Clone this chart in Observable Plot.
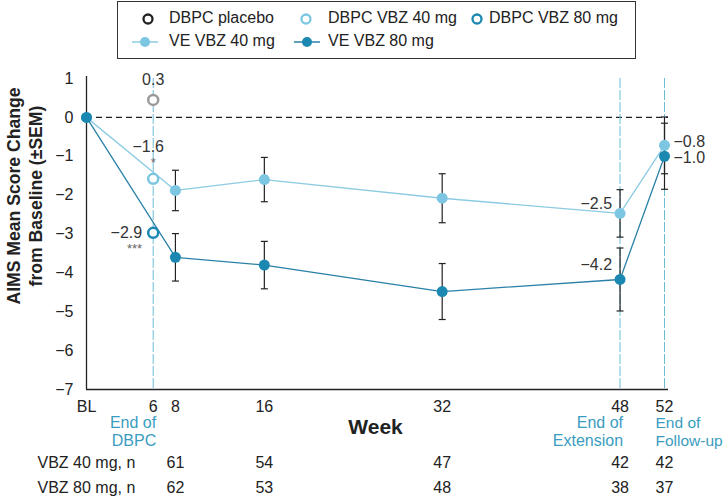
<!DOCTYPE html>
<html>
<head>
<meta charset="utf-8">
<script src="https://cdn.jsdelivr.net/npm/d3@7"></script>
<script src="https://cdn.jsdelivr.net/npm/@observablehq/plot@0.6"></script>
<style>
  html, body { margin: 0; padding: 0; background: #fff; }
  body { font-family: "Liberation Sans", Arial, sans-serif; }
  #wrap { position: relative; width: 724px; height: 503px; overflow: hidden; }
  #chart { position: absolute; left: 0; top: 0; }
  #legend { position: absolute; left: 117px; top: 1px; width: 519px; height: 58px; border: 1px solid #333; box-sizing: border-box; }
  .li { position: absolute; font-size: 16px; color: #222; line-height: 18px; white-space: nowrap; }
  .sym { position: absolute; }
</style>
</head>
<body>
<div id="wrap">
  <div id="chart"></div>
  <div id="legend"></div>
</div>
<script>
// ---- data ----
const weeks = [0, 8, 16, 32, 48, 52];
const ve40 = [0, -1.88, -1.6, -2.08, -2.47, -0.72];
const ve40Sem = [0, 0.52, 0.57, 0.63, 0.61, 0.73];
const ve80 = [0, -3.6, -3.8, -4.48, -4.17, -1.0];
const ve80Sem = [0, 0.61, 0.61, 0.72, 0.81, 0.85];

const dbpcWeek = 6;
const dbpcGroups = ["DBPC placebo", "DBPC VBZ 40 mg", "DBPC VBZ 80 mg"];
const dbpcValues = [0.45, -1.58, -2.97];
const dbpcLabels = ["0.3", "\u22121.6", "\u22122.9"];
const dbpcSig = ["", "*", "***"];

const endLabels = [["End of\nDBPC", 6], ["End of\nExtension", 48], ["End of\nFollow-up", 52]];
const xTicks = [0, 6, 8, 16, 32, 48, 52];
const xTickLabels = ["BL", "6", "8", "16", "32", "48", "52"];
const yTicks = [1, 0, -1, -2, -3, -4, -5, -6, -7];

const tableWeeks = [8, 16, 32, 48, 52];
const n40 = [61, 54, 47, 42, 42];
const n80 = [62, 53, 48, 38, 37];
const tableRows = ["VBZ 40 mg, n", "VBZ 80 mg, n"];

const endLabels40 = ["\u22122.5", "\u22120.8"];
const endLabels80 = ["\u22124.2", "\u22121.0"];

// ---- styles ----
const LIGHT = "#7cc6e2", LIGHT_LINE = "#8ccbe2";
const DARK = "#1a88b0", DARK_LINE = "#2a80a8";
const GREY = "#9a9a9a";
const VLINE = "#6cbcd8", VTEXT = "#3a9cc0";
const FONT = "'Liberation Sans', Arial, sans-serif";

const rows40 = weeks.map((w, i) => ({week: w, value: ve40[i], sem: ve40Sem[i]}));
const rows80 = weeks.map((w, i) => ({week: w, value: ve80[i], sem: ve80Sem[i]}));
const err40 = rows40.filter(d => d.week > 0);
const err80 = rows80.filter(d => d.week > 0);
const dbpc = dbpcGroups.map((g, i) => ({group: g, week: dbpcWeek, value: dbpcValues[i], label: dbpcLabels[i], sig: dbpcSig[i]}));
const endRows = endLabels.map(([t, w]) => ({text: t, week: w}));
const table40 = tableWeeks.map((w, i) => ({week: w, n: n40[i]}));
const table80 = tableWeeks.map((w, i) => ({week: w, n: n80[i]}));

const capSymbol = {draw(ctx) { ctx.moveTo(-3.5, 0); ctx.lineTo(3.5, 0); }};

const errMarks = (rows) => [
  Plot.link(rows, {x1: "week", x2: "week", y1: d => d.value - d.sem, y2: d => d.value + d.sem, stroke: "#222", strokeWidth: 1.2}),
  Plot.dot(rows, {x: "week", y: d => d.value - d.sem, symbol: capSymbol, stroke: "#222", strokeWidth: 1.2}),
  Plot.dot(rows, {x: "week", y: d => d.value + d.sem, symbol: capSymbol, stroke: "#222", strokeWidth: 1.2})
];

const lastTwo = (rows) => rows.filter(d => d.week >= 48);

const chart = Plot.plot({
  width: 724,
  height: 503,
  marginLeft: 86,
  marginRight: 60,
  marginTop: 78,
  marginBottom: 114,
  style: {fontFamily: FONT, fontSize: "16px", color: "#222", background: "transparent", overflow: "visible"},
  x: {domain: [0, 52]},
  y: {domain: [-7, 1]},
  marks: [
    // reference lines
    Plot.ruleY([0], {stroke: "#222", strokeDasharray: "6,4", strokeWidth: 1.2, insetRight: -4}),
    Plot.ruleX(endRows, {x: "week", stroke: VLINE, strokeDasharray: "10,2", strokeWidth: 1}),
    // axes lines
    Plot.ruleX([0], {stroke: "#222", strokeWidth: 1.3, insetTop: -2}),
    Plot.ruleY([-7], {stroke: "#222", strokeWidth: 1.3, insetRight: -4}),
    Plot.axisY({ticks: yTicks, tickSize: 0, tickPadding: 13, fontSize: 16, label: null}),
    Plot.axisX({ticks: xTicks, tickFormat: d => xTickLabels[xTicks.indexOf(d)], tickSize: 0, tickPadding: 11, fontSize: 16, label: null}),
    // y title
    Plot.text(["AIMS Mean Score Change\nfrom Baseline (\u00b1SEM)"], {frameAnchor: "left", textAnchor: "middle", rotate: -90, dx: -63, dy: -38, fontSize: 17.6, fontWeight: "bold", lineHeight: 1.25, fill: "#222"}),
    // x title
    Plot.text(["Week"], {frameAnchor: "bottom", dy: 44, fontSize: 21, fontWeight: "bold", fill: "#222"}),
    // end labels
    Plot.text(endRows.filter(d => d.week < 52), {x: "week", text: "text", frameAnchor: "bottom", textAnchor: "end", lineAnchor: "top", dx: 3, dy: 26, fontSize: 16, lineHeight: 1.12, fill: VTEXT}),
    Plot.text(endRows.filter(d => d.week === 52), {x: "week", text: "text", frameAnchor: "bottom", textAnchor: "start", lineAnchor: "top", dx: -9, dy: 26, fontSize: 15.5, lineHeight: 1.15, fill: VTEXT}),
    // lines
    Plot.line(rows40, {x: "week", y: "value", stroke: LIGHT_LINE, strokeWidth: 1.3}),
    Plot.line(rows80, {x: "week", y: "value", stroke: DARK_LINE, strokeWidth: 1.3}),
    // error bars
    ...errMarks(err40),
    ...errMarks(err80),
    // points
    Plot.dot(rows40, {x: "week", y: "value", r: 5.5, fill: LIGHT}),
    Plot.dot(rows80, {x: "week", y: "value", r: 5.5, fill: DARK}),
    Plot.dot(dbpc, {x: "week", y: "value", r: 5, fill: "white", strokeWidth: 2.5, stroke: d => d.group === "DBPC placebo" ? GREY : d.group === "DBPC VBZ 40 mg" ? LIGHT : DARK}),
    // DBPC labels
    Plot.text(dbpc.slice(0, 1), {x: "week", y: "value", text: "label", dy: -20, fontSize: 16, fill: "#333"}),
    Plot.text(dbpc.slice(1, 2), {x: "week", y: "value", text: "label", dx: -5, dy: -32, fontSize: 16, fill: "#333"}),
    Plot.text(dbpc.slice(1, 2), {x: "week", y: "value", text: "sig", dy: -16, fontSize: 13, fill: "#666"}),
    Plot.text(dbpc.slice(2, 3), {x: "week", y: "value", text: "label", textAnchor: "end", dx: -11, fontSize: 16, fill: "#333"}),
    Plot.text(dbpc.slice(2, 3), {x: "week", y: "value", text: "sig", textAnchor: "end", dx: -11, dy: 16, fontSize: 13, fill: "#666"}),
    // end value labels
    Plot.text(lastTwo(rows40).slice(0, 1), {x: "week", y: "value", text: () => endLabels40[0], textAnchor: "end", dx: -8, dy: -10, fontSize: 16, fill: "#333"}),
    Plot.text(lastTwo(rows80).slice(0, 1), {x: "week", y: "value", text: () => endLabels80[0], textAnchor: "end", dx: -8, dy: -15, fontSize: 16, fill: "#333"}),
    Plot.text(lastTwo(rows40).slice(1, 2), {x: "week", y: "value", text: () => endLabels40[1], textAnchor: "start", dx: 9, dy: -3, fontSize: 16, fill: "#333"}),
    Plot.text(lastTwo(rows80).slice(1, 2), {x: "week", y: "value", text: () => endLabels80[1], textAnchor: "start", dx: 9, dy: 2, fontSize: 16, fill: "#333"}),
    // n table
    Plot.text([tableRows[0]], {frameAnchor: "bottom-left", textAnchor: "start", dx: -49, dy: 78, fontSize: 16, fill: "#222"}),
    Plot.text([tableRows[1]], {frameAnchor: "bottom-left", textAnchor: "start", dx: -49, dy: 103, fontSize: 16, fill: "#222"}),
    Plot.text(table40, {x: "week", text: "n", frameAnchor: "bottom", dy: 78, fontSize: 16, fill: "#222"}),
    Plot.text(table80, {x: "week", text: "n", frameAnchor: "bottom", dy: 103, fontSize: 16, fill: "#222"})
  ]
});
document.getElementById("chart").appendChild(chart);

// ---- legend ----
const legendItems = [
  {label: "DBPC placebo", type: "hollow", color: "#222", sx: 30, tx: 51, row: 0},
  {label: "DBPC VBZ 40 mg", type: "hollow", color: LIGHT, sx: 188, tx: 210, row: 0},
  {label: "DBPC VBZ 80 mg", type: "hollow", color: DARK, sx: 359, tx: 371, row: 0},
  {label: "VE VBZ 40 mg", type: "line", color: LIGHT, line: LIGHT_LINE, sx: 27, tx: 51, row: 1},
  {label: "VE VBZ 80 mg", type: "line", color: DARK, line: DARK_LINE, sx: 189, tx: 210, row: 1}
];
const leg = document.getElementById("legend");
const rowY = [17, 40];
legendItems.forEach(it => {
  const s = document.createElementNS("http://www.w3.org/2000/svg", "svg");
  s.setAttribute("class", "sym");
  s.setAttribute("width", 28);
  s.setAttribute("height", 14);
  s.style.left = (it.sx - 14) + "px";
  s.style.top = (rowY[it.row] - 7) + "px";
  if (it.type === "hollow") {
    s.innerHTML = `<circle cx="14" cy="7" r="4.5" fill="white" stroke="${it.color}" stroke-width="2.3"/>`;
  } else {
    s.innerHTML = `<line x1="1" y1="7" x2="27" y2="7" stroke="${it.line}" stroke-width="1.5"/><circle cx="14" cy="7" r="5" fill="${it.color}"/>`;
  }
  leg.appendChild(s);
  const t = document.createElement("div");
  t.className = "li";
  t.textContent = it.label;
  t.style.left = it.tx + "px";
  t.style.top = (rowY[it.row] - 10) + "px";
  leg.appendChild(t);
});
</script>
</body>
</html>
